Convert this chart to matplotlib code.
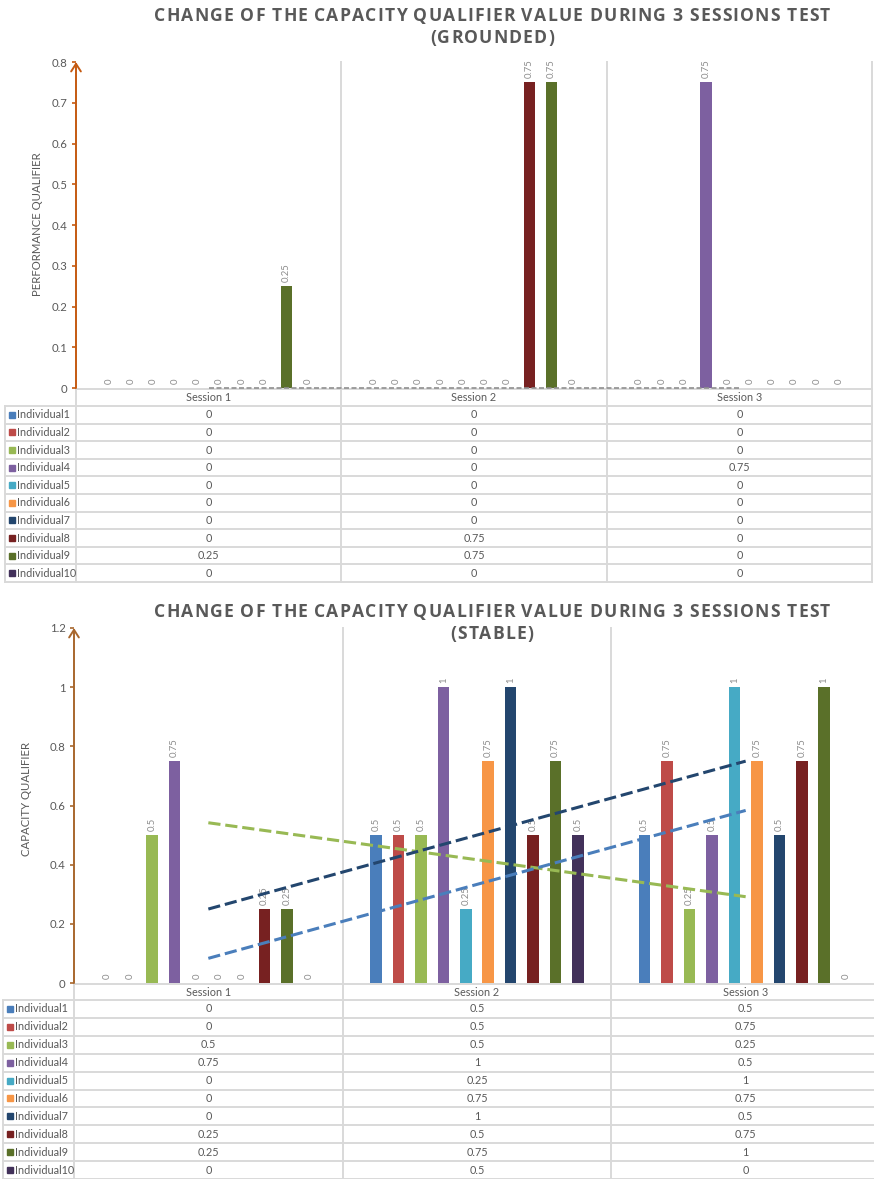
import matplotlib.pyplot as plt
from matplotlib.patches import Rectangle
from matplotlib.font_manager import FontProperties
import numpy as np

plt.rcParams['font.family'] = ['Lato', 'DejaVu Sans']

W, H = 874, 1179

sessions = ['Session 1', 'Session 2', 'Session 3']
individuals = ['Individual1', 'Individual2', 'Individual3', 'Individual4', 'Individual5',
               'Individual6', 'Individual7', 'Individual8', 'Individual9', 'Individual10']
colors = ['#4A7EBB', '#BE4B48', '#98B954', '#7D60A0', '#46AAC5',
          '#F79646', '#23466E', '#772121', '#5A7029', '#42315A']

# grounded test: one list per session, one value per individual
grounded_s1 = [0, 0, 0, 0, 0, 0, 0, 0, 0.25, 0]
grounded_s2 = [0, 0, 0, 0, 0, 0, 0, 0.75, 0.75, 0]
grounded_s3 = [0, 0, 0, 0.75, 0, 0, 0, 0, 0, 0]

# stable test
stable_s1 = [0, 0, 0.5, 0.75, 0, 0, 0, 0.25, 0.25, 0]
stable_s2 = [0.5, 0.5, 0.5, 1, 0.25, 0.75, 1, 0.5, 0.75, 0.5]
stable_s3 = [0.5, 0.75, 0.25, 0.5, 1, 0.75, 0.5, 0.75, 1, 0]

TEXT = '#595959'
LABEL = '#8C8C8C'
GRID = '#D9D9D9'

fig = plt.figure(figsize=(W / 100, H / 100), dpi=100)
renderer = fig.canvas.get_renderer()
title_font = FontProperties(family=['Open Sans', 'DejaVu Sans'], weight='bold', size=12.6)

# overlay in pixel units for titles, table grid and text
ov = fig.add_axes([0, 0, 1, 1])
ov.set_xlim(0, W)
ov.set_ylim(H, 0)
ov.axis('off')
ov.set_zorder(0)


def px_axes(x0, x1, y0, y1):
    return fig.add_axes([x0 / W, 1 - y1 / H, (x1 - x0) / W, (y1 - y0) / H])


def spaced_text(cx, y, s, prop, tracking):
    # letter-spaced title: place characters one by one
    widths = [renderer.get_text_width_height_descent(c, prop, ismath=False)[0] for c in s]
    total = sum(widths) + tracking * (len(s) - 1)
    x = cx - total / 2
    for c, w in zip(s, widths):
        ov.text(x, y, c, ha='left', va='center', fontproperties=prop, color=TEXT)
        x += w + tracking


def draw_chart(spec, data, trends):
    x0, x1, y0, y1 = spec['plot']
    ax = px_axes(x0, x1, y0, y1)
    ax.set_zorder(1)
    ax.patch.set_alpha(0)
    ax.set_xlim(-0.5, 2.5)
    ax.set_ylim(0, spec['ymax'])

    slot = 0.0835
    width = 0.043
    idx = np.arange(len(sessions))
    for i, name in enumerate(individuals):
        vals = [s[i] for s in data]
        xs = idx + (i - 4.5) * slot
        ax.bar(xs, vals, width, color=colors[i], zorder=2)
        for x, v in zip(xs, vals):
            ax.annotate(f'{v:g}', (x, v), xytext=(0, 3), textcoords='offset points',
                        rotation=90, ha='center', va='bottom', fontsize=6.8,
                        color=LABEL, zorder=3)

    # linear trend lines across the three sessions
    for i, c, lw, ls in trends:
        vals = [s[i] for s in data]
        k, b = np.polyfit([1, 2, 3], vals, 1)
        ax.plot([0, 2], [k * 1 + b, k * 3 + b], color=c, lw=lw, linestyle=ls,
                zorder=4, solid_capstyle='butt', clip_on=False)

    for side in ['top', 'right', 'bottom', 'left']:
        ax.spines[side].set_visible(False)
    ax.set_xticks([])
    ax.set_yticks(np.arange(0, spec['ymax'] + 1e-9, spec['ystep']))
    ax.set_yticklabels([f'{t:g}' for t in ax.get_yticks()])
    ax.tick_params(axis='y', colors=spec['axis'], labelcolor=TEXT, labelsize=8.2,
                   length=3, width=1.2, pad=3)
    ax.annotate('', xy=(0, 1.0), xytext=(0, 0), xycoords='axes fraction',
                arrowprops=dict(arrowstyle='->,head_length=0.55,head_width=0.35',
                                color=spec['axis'], lw=1.4, shrinkA=0, shrinkB=0))

    # titles and axis label
    for t, ty in zip(spec['title'], spec['title_y']):
        spaced_text(492, ty, t, title_font, 1.15)
    ov.text(spec['ylabel_x'], spec['ylabel_y'], spec['ylabel'], rotation=90,
            ha='center', va='center', fontsize=8.2, color=TEXT)

    # data table under the plot
    left = spec['left']
    hdr_top, hdr_bot = spec['header']
    rh = spec['row_h']
    nrows = len(individuals)
    bottom = hdr_bot + nrows * rh
    col_w = (x1 - x0) / 3
    edges = [x0 + k * col_w for k in range(4)]
    for k, e in enumerate(edges):
        top = hdr_top if k == 0 else y0
        ov.plot([e, e], [top, bottom], color=GRID, lw=1.4, zorder=1)
    ov.plot([left, left], [hdr_bot, bottom], color=GRID, lw=1.4)
    ov.plot([x0, x1], [hdr_top, hdr_top], color=GRID, lw=1.4)
    for r in range(nrows + 1):
        yy = hdr_bot + r * rh
        ov.plot([left, x1], [yy, yy], color=GRID, lw=1.4)
    for k, name in enumerate(sessions):
        cx = x0 + (k + 0.5) * col_w
        ov.text(cx, (hdr_top + hdr_bot) / 2, name, ha='center', va='center',
                fontsize=7.8, color=TEXT)
        for r in range(nrows):
            ov.text(cx, hdr_bot + (r + 0.5) * rh, f'{data[k][r]:g}', ha='center',
                    va='center', fontsize=7.8, color=TEXT)
    for r, name in enumerate(individuals):
        cy = hdr_bot + (r + 0.5) * rh
        ov.add_patch(Rectangle((left + 4, cy - 3), 6, 6, color=colors[r]))
        ov.text(left + 12.5, cy, name, ha='left', va='center', fontsize=7.8, color=TEXT)


grounded_spec = dict(
    plot=(76, 872, 62, 388), ymax=0.8, ystep=0.1, axis='#C55A11',
    title=['CHANGE OF THE CAPACITY QUALIFIER VALUE DURING 3 SESSIONS TEST', '(GROUNDED)'],
    title_y=(16, 38), ylabel='PERFORMANCE QUALIFIER', ylabel_x=38, ylabel_y=224,
    left=5, header=(389, 406), row_h=17.6)

stable_spec = dict(
    plot=(74, 880, 628, 983), ymax=1.2, ystep=0.2, axis='#A8672E',
    title=['CHANGE OF THE CAPACITY QUALIFIER VALUE DURING 3 SESSIONS TEST', '(STABLE)'],
    title_y=(612, 634), ylabel='CAPACITY QUALIFIER', ylabel_x=27, ylabel_y=799,
    left=3, header=(984, 1000), row_h=17.9)

draw_chart(grounded_spec, [grounded_s1, grounded_s2, grounded_s3],
           [(0, '#8F8F8F', 1.2, (0, (3, 1.5)))])
draw_chart(stable_spec, [stable_s1, stable_s2, stable_s3],
           [(2, colors[2], 2.2, (0, (4, 1.6))),
            (6, colors[6], 2.2, (0, (4, 1.6))),
            (0, colors[0], 2.2, (0, (4, 1.6)))])

fig.savefig('out.png', dpi=100)
